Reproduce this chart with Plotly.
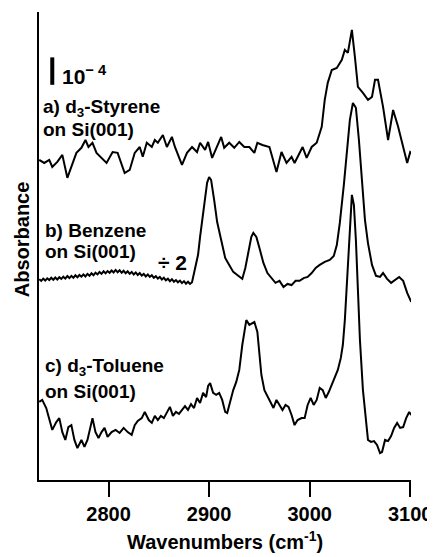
import plotly.graph_objects as go

# ---------------- data (wavenumber cm^-1, absorbance in 1e-4 units, offset) ----------------
styrene_wn = [2731, 2736, 2741, 2744, 2749, 2754, 2759, 2763, 2768, 2773, 2777, 2780, 2784, 2788,
              2793, 2798, 2804, 2809, 2816, 2821, 2826, 2831, 2834, 2838, 2843, 2846, 2849, 2854,
              2858, 2863, 2866, 2873, 2878, 2883, 2888, 2891, 2896, 2899, 2903, 2908, 2912, 2915,
              2920, 2925, 2930, 2935, 2940, 2945, 2948, 2953, 2960, 2967, 2972, 2977, 2982, 2985,
              2990, 2993, 2997, 3002, 3007, 3012, 3015, 3018, 3022, 3027, 3032, 3035, 3038, 3042,
              3045, 3048, 3053, 3058, 3062, 3065, 3068, 3073, 3078, 3083, 3088, 3092, 3097, 3100,
              3103]
styrene_abs = [11.43, 11.32, 11.43, 11.18, 11.36, 11.61, 10.79, 11.18, 11.68, 11.86, 12.14, 11.89,
               12.04, 11.68, 11.50, 11.32, 11.71, 11.68, 10.96, 11.07, 11.68, 11.89, 11.54, 12.04,
               11.89, 12.14, 12.04, 12.32, 11.89, 12.25, 11.89, 11.25, 11.68, 11.89, 11.71, 12.04,
               11.79, 12.07, 11.50, 11.89, 12.25, 11.86, 12.04, 11.86, 12.07, 11.89, 11.89, 11.68,
               12.04, 11.96, 11.89, 11.00, 11.71, 11.32, 11.54, 11.32, 11.68, 11.89, 11.50, 11.89,
               12.04, 12.61, 13.57, 14.18, 14.64, 14.71, 15.00, 15.36, 15.25, 16.07, 15.11, 14.04,
               13.82, 13.57, 13.68, 14.29, 14.29, 13.32, 12.14, 13.21, 12.61, 12.04, 11.32, 11.71,
               11.61]

benzene_wn = [2731, 2733, 2735, 2737, 2739, 2741, 2743, 2745, 2747, 2749, 2751, 2753, 2755, 2757,
              2759, 2761, 2763, 2765, 2767, 2769, 2771, 2773, 2775, 2777, 2779, 2781, 2783, 2785,
              2787, 2789, 2791, 2793, 2795, 2797, 2799, 2801, 2803, 2805, 2807, 2809, 2811, 2813,
              2815, 2817, 2819, 2821, 2823, 2825, 2827, 2829, 2831, 2833, 2835, 2837, 2839, 2841,
              2843, 2845, 2847, 2849, 2851, 2853, 2855, 2857, 2859, 2861, 2863, 2865, 2867, 2869,
              2871, 2873, 2875, 2877, 2879, 2881, 2883,
              2886, 2889, 2891, 2894, 2896, 2898, 2900, 2902, 2905, 2908, 2912, 2916, 2920, 2924,
              2928, 2933, 2936, 2939, 2942, 2944, 2947, 2950, 2954, 2958, 2962, 2966, 2970, 2974,
              2978, 2982, 2986, 2990, 2994, 2998, 3002, 3006, 3010, 3015, 3020, 3024, 3027, 3030,
              3034, 3037, 3040, 3043, 3046, 3049, 3052, 3055, 3058, 3062, 3066, 3070, 3073, 3077,
              3081, 3085, 3089, 3093, 3097, 3101]
benzene_abs = [7.17, 7.11, 7.19, 7.12, 7.20, 7.14, 7.22, 7.15, 7.23, 7.16, 7.24, 7.18, 7.26, 7.19,
               7.28, 7.21, 7.29, 7.22, 7.31, 7.24, 7.32, 7.26, 7.34, 7.27, 7.36, 7.29, 7.38, 7.31,
               7.40, 7.34, 7.43, 7.36, 7.45, 7.38, 7.46, 7.40, 7.48, 7.41, 7.50, 7.42, 7.49, 7.40,
               7.47, 7.38, 7.45, 7.36, 7.43, 7.34, 7.41, 7.32, 7.39, 7.30, 7.36, 7.27, 7.34, 7.25,
               7.31, 7.22, 7.28, 7.19, 7.25, 7.16, 7.22, 7.13, 7.19, 7.10, 7.17, 7.08, 7.14, 7.06,
               7.12, 7.03, 7.10, 7.01, 7.08, 7.00, 7.06,
               7.50, 8.04, 8.68, 9.46, 10.11, 10.61, 10.82, 10.71, 10.00, 9.21, 8.57, 7.93, 7.68, 7.43,
               7.32, 7.18, 7.57, 8.14, 8.68, 8.82, 8.68, 8.29, 7.75, 7.39, 7.21, 7.04, 7.11, 6.89,
               7.00, 6.96, 7.11, 7.11, 7.21, 7.25, 7.39, 7.57, 7.68, 7.79, 7.86, 8.00, 8.39, 9.18,
               10.54, 11.61, 12.86, 13.46, 13.29, 12.14, 10.54, 9.29, 8.46, 7.68, 7.29, 7.25, 7.39, 7.18,
               7.04, 7.14, 7.25, 7.11, 6.68, 6.36]

toluene_wn = [2731, 2734, 2738, 2741, 2744, 2748, 2751, 2754, 2757, 2760, 2763, 2766, 2769, 2773,
              2776, 2779, 2782, 2784, 2787, 2790, 2793, 2796, 2799, 2803, 2807, 2811, 2815, 2819,
              2823, 2826, 2829, 2833, 2836, 2840, 2843, 2846, 2849, 2852, 2855, 2858, 2861, 2864,
              2867, 2870, 2873, 2876, 2879, 2882, 2885, 2888, 2891, 2894, 2897, 2899, 2901, 2904,
              2907, 2910, 2913, 2916, 2918, 2921, 2924, 2927, 2930, 2933, 2935, 2937, 2940, 2943,
              2945, 2948, 2950, 2952, 2955, 2958, 2961, 2964, 2967, 2970, 2973, 2976, 2979, 2982,
              2985, 2988, 2992, 2995, 2998, 3001, 3004, 3007, 3010, 3013, 3016, 3019, 3022, 3025,
              3028, 3031, 3033, 3035, 3037, 3039, 3041, 3042, 3044, 3046, 3048, 3050, 3053, 3056,
              3058, 3061, 3064, 3067, 3070, 3072, 3075, 3078, 3081, 3084, 3087, 3090, 3093, 3096,
              3099, 3101]
toluene_abs = [2.79, 2.86, 2.57, 2.14, 1.79, 2.07, 2.21, 1.71, 1.43, 1.89, 1.96, 1.43, 1.14, 1.43,
               1.18, 1.43, 1.96, 2.21, 1.71, 1.50, 1.71, 1.86, 1.54, 1.71, 1.79, 1.68, 1.86, 1.71,
               1.61, 1.96, 2.11, 2.21, 2.43, 2.14, 2.04, 2.29, 2.14, 2.29, 2.21, 2.43, 2.61, 2.29,
               2.43, 2.36, 2.50, 2.64, 2.50, 2.71, 2.57, 2.93, 2.75, 3.11, 2.96, 3.36, 3.46, 3.11,
               3.04, 3.11, 2.86, 2.43, 2.39, 2.86, 3.21, 3.50, 3.93, 4.82, 5.36, 5.71, 5.54, 5.61,
               5.64, 5.29, 4.64, 3.75, 3.21, 3.00, 2.79, 2.57, 2.86, 2.68, 2.50, 2.68, 2.61, 2.32,
               1.96, 2.14, 2.21, 2.21, 2.68, 2.93, 2.68, 2.86, 3.29, 3.21, 2.93, 3.14, 3.39, 3.64,
               3.93, 4.36, 4.82, 5.71, 6.96, 8.39, 9.71, 10.18, 9.82, 8.57, 6.79, 5.00, 3.21, 1.96,
               1.43, 1.36, 1.39, 1.25, 0.96, 1.00, 1.43, 1.39, 1.57, 1.86, 2.04, 1.86, 1.89, 2.21,
               2.43, 2.32]

x_ticks = [2800, 2900, 3000, 3100]
x_tick_labels = ["2800", "2900", "3000", "3100"]

# ---------------- figure ----------------
FONT = "Liberation Sans, Arial, Helvetica, sans-serif"
fig = go.Figure()
for wn, ab in [(styrene_wn, styrene_abs), (benzene_wn, benzene_abs), (toluene_wn, toluene_abs)]:
    fig.add_trace(go.Scatter(x=wn, y=ab, mode="lines",
                             line=dict(color="black", width=2), showlegend=False,
                             hoverinfo="skip"))

# scale bar (1e-4 absorbance)
fig.add_shape(type="line", xref="x", yref="y", x0=2744, x1=2744, y0=14.11, y1=15.09,
              line=dict(color="black", width=4))

def label(text, x, y, size=19, anchor="left"):
    fig.add_annotation(text=text, x=x, y=y, xref="x", yref="y", showarrow=False,
                       xanchor=anchor, yanchor="middle",
                       font=dict(family=FONT, size=size, color="black", weight="bold"))

label("10<sup>− 4</sup>", 2752, 14.45, size=21)
label("a) d<sub>3</sub>-Styrene", 2733, 13.27)
label("on Si(001)", 2733, 12.50)
label("b) Benzene", 2735, 8.92)
label("on Si(001)", 2735, 8.16)
label("÷ 2", 2847, 7.75, size=21)
label("c) d<sub>3</sub>-Toluene", 2735, 4.05)
label("on Si(001)", 2735, 3.16)

# axis titles
fig.add_annotation(text="Wavenumbers (cm<sup>-1</sup>)", x=0.5, y=-0.13, xref="paper", yref="paper",
                   showarrow=False, xanchor="center", yanchor="middle",
                   font=dict(family=FONT, size=20, color="black", weight="bold"))
fig.add_annotation(text="Absorbance", x=-0.045, y=0.515, xref="paper", yref="paper",
                   showarrow=False, xanchor="center", yanchor="middle", textangle=-90,
                   font=dict(family=FONT, size=20, color="black", weight="bold"))

# the page body adds an 8 px offset; margins compensate for it
fig.update_layout(
    width=435, height=557,
    margin=dict(l=31, r=32, t=4, b=85),
    paper_bgcolor="white", plot_bgcolor="white",
    xaxis=dict(range=[2730.8, 3100.8], tickvals=x_ticks, ticktext=x_tick_labels,
               ticks="outside", ticklen=15, tickwidth=2, tickcolor="black",
               showline=True, linecolor="black", linewidth=2, showgrid=False, zeroline=False,
               tickfont=dict(family=FONT, size=20, color="black", weight="bold")),
    yaxis=dict(range=[0, 16.71], showticklabels=False, ticks="", showline=True,
               linecolor="black", linewidth=2, showgrid=False, zeroline=False),
)

fig.write_html("out.html")
